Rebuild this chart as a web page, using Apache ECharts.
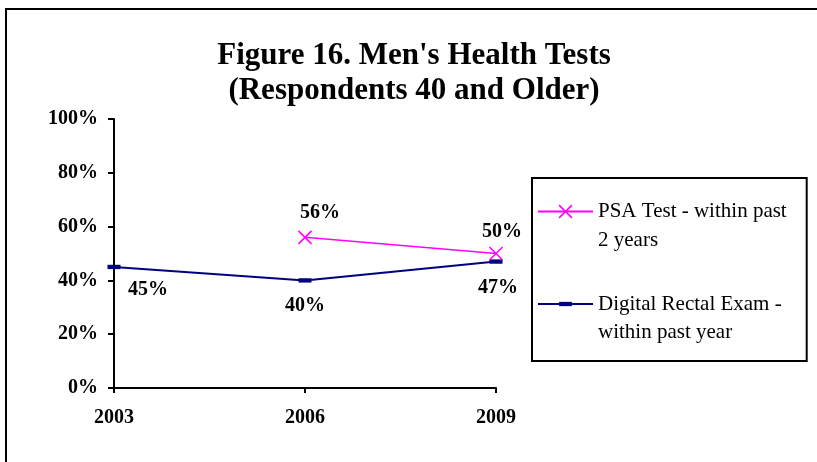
<!DOCTYPE html>
<html lang="en">
<head>
    <meta charset="UTF-8">
    <title>Men's Health Tests</title>
    <script src="https://cdn.jsdelivr.net/npm/echarts@6/dist/echarts.min.js"></script>
    <style>
        html, body { margin: 0; padding: 0; background: #ffffff; }
        #chart { width: 817px; height: 462px; }
    </style>
</head>
<body>
<div id="chart"></div>
<script>
    // data
    var years = ['2003', '2006', '2009'];
    var psaTest = [null, 56, 50];
    var rectalExam = [45, 40, 47];
    var yTicks = [0, 20, 40, 60, 80, 100];

    // label nudges (px) so the numbers sit where the original put them
    var psaLabelShift = [[0, 0], [15, -25], [6, -22]];
    var dreLabelShift = [[34, 23], [0, 25], [2, 26]];

    var serif = 'Liberation Serif, Times New Roman, serif';
    var xMark = 'path://M0,0L10,10M10,0L0,10';
    // short bar; the lone moves keep a square box so it is not stretched
    var dash = 'path://M0,-4M0,0L12,0L12,4L0,4ZM12,8';

    function withLabels(values, shifts) {
        var out = [];
        for (var i = 0; i < values.length; i++) {
            out.push({value: values[i], label: {offset: shifts[i]}});
        }
        return out;
    }

    var labelStyle = {
        show: true,
        position: 'inside',
        formatter: '{c}%',
        color: '#000',
        fontFamily: serif,
        fontWeight: 'bold',
        fontSize: 20
    };

    var option = {
        animation: false,
        backgroundColor: '#ffffff',
        title: {
            text: "Figure 16. Men's Health Tests\n(Respondents 40 and Older)",
            left: 414,
            textAlign: 'center',
            top: 38,
            padding: 0,
            textStyle: {
                fontFamily: serif,
                fontWeight: 'bold',
                fontSize: 31,
                lineHeight: 35,
                color: '#000'
            }
        },
        legend: {
            orient: 'vertical',
            left: 532,
            top: 178,
            padding: [23, 20, 18, 5],
            itemWidth: 55,
            itemHeight: 16,
            itemGap: 43,
            borderColor: '#000',
            borderWidth: 2,
            backgroundColor: '#fff',
            formatter: function (name) {
                var parts = name.split('\n');
                return '{a|' + parts[0] + '}\n{b|' + parts[1] + '}';
            },
            textStyle: {
                fontFamily: serif,
                fontSize: 21,
                color: '#000',
                rich: {
                    a: {fontFamily: serif, fontSize: 21, color: '#000', lineHeight: 28},
                    b: {fontFamily: serif, fontSize: 21, color: '#000', lineHeight: 0,
                        verticalAlign: 'top', padding: [4, 0, 0, 0]}
                }
            },
            data: [
                {name: 'PSA Test - within past\n2 years', itemStyle: {borderColor: '#ff00ff', borderWidth: 1.5}},
                {name: 'Digital Rectal Exam -\nwithin past year'}
            ]
        },
        graphic: [{
            type: 'rect',
            shape: {x: 6, y: 9, width: 1000, height: 1000},
            style: {fill: 'none', stroke: '#000', lineWidth: 2},
            silent: true
        }],
        grid: {
            left: 114,
            right: 321,
            top: 119,
            bottom: 74,
            containLabel: false
        },
        xAxis: {
            type: 'category',
            data: years,
            boundaryGap: false,
            axisLine: {lineStyle: {color: '#000', width: 2}},
            axisTick: {show: true, length: 5, lineStyle: {color: '#000', width: 2}},
            axisLabel: {
                margin: 20,
                color: '#000',
                fontFamily: serif,
                fontWeight: 'bold',
                fontSize: 20
            },
            splitLine: {show: false}
        },
        yAxis: {
            type: 'value',
            min: yTicks[0],
            max: yTicks[yTicks.length - 1],
            interval: yTicks[1] - yTicks[0],
            axisLine: {show: true, lineStyle: {color: '#000', width: 2}},
            axisTick: {show: true, length: 6, lineStyle: {color: '#000', width: 2}},
            axisLabel: {
                margin: 16,
                formatter: '{value}%',
                color: '#000',
                fontFamily: serif,
                fontWeight: 'bold',
                fontSize: 20
            },
            splitLine: {show: false}
        },
        series: [
            {
                name: 'PSA Test - within past\n2 years',
                type: 'line',
                data: withLabels(psaTest, psaLabelShift),
                connectNulls: false,
                symbol: xMark,
                symbolSize: 13,
                color: '#ff00ff',
                lineStyle: {color: '#ff00ff', width: 1.5},
                itemStyle: {color: '#ff00ff', borderColor: '#ff00ff', borderWidth: 1.5},
                label: labelStyle,
                z: 3
            },
            {
                name: 'Digital Rectal Exam -\nwithin past year',
                type: 'line',
                data: withLabels(rectalExam, dreLabelShift),
                symbol: dash,
                symbolSize: 13,
                color: '#000080',
                lineStyle: {color: '#000080', width: 2},
                itemStyle: {color: '#000080', borderColor: '#000080', borderWidth: 0},
                label: labelStyle,
                z: 2
            }
        ]
    };

    var chart = echarts.init(document.getElementById('chart'));
    chart.setOption(option);
</script>
</body>
</html>
